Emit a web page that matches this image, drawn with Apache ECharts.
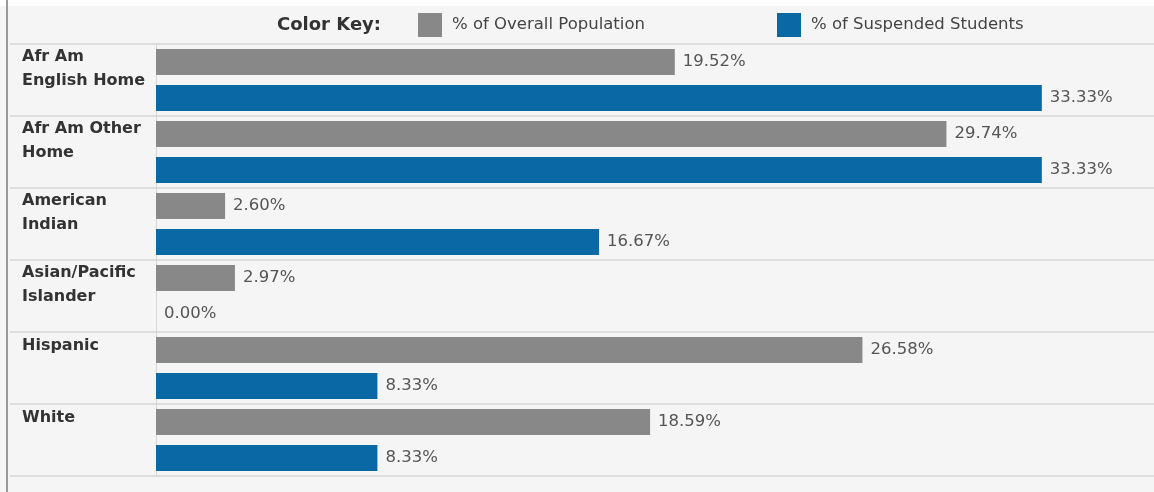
<!DOCTYPE html>
<html>
<head>
<meta charset="utf-8">
<script src="https://cdn.jsdelivr.net/npm/echarts@6/dist/echarts.min.js"></script>
<style>
html,body{margin:0;padding:0;background:#ffffff;}
#chart{width:1154px;height:492px;}
</style>
</head>
<body>
<div id="chart"></div>
<script>
const categories = [
  'Afr Am\nEnglish Home',
  'Afr Am Other\nHome',
  'American\nIndian',
  'Asian/Pacific\nIslander',
  'Hispanic',
  'White'
];
const seriesNames = ['% of Overall Population', '% of Suspended Students'];
const overallPopulation = [19.52, 29.74, 2.60, 2.97, 26.58, 18.59];
const suspendedStudents = [33.33, 33.33, 16.67, 0.00, 8.33, 8.33];
const colorKeyTitle = 'Color Key:';

const FONT = 'DejaVu Sans';
const chart = echarts.init(document.getElementById('chart'), null, {renderer: 'canvas'});

function catLabel(v) {
  const lines = v.split('\n');
  const gap = lines.length > 1 ? '{g2| }' : '{g1| }';
  return lines.map(l => '{t|' + l + '}').join('\n') + '\n' + gap;
}

const option = {
  backgroundColor: '#f5f5f5',
  animation: false,
  title: {
    text: colorKeyTitle,
    left: 277, top: 16, padding: 0,
    textStyle: {fontFamily: FONT, fontSize: 18, fontWeight: 'bold', color: '#333333'}
  },
  legend: [
    {
      data: [seriesNames[0]], left: 418, top: 13, padding: 0,
      icon: 'rect', itemWidth: 24, itemHeight: 24,
      textStyle: {fontFamily: FONT, fontSize: 16.5, color: '#444444', padding: [2,0,0,5]}
    },
    {
      data: [seriesNames[1]], left: 777, top: 13, padding: 0,
      icon: 'rect', itemWidth: 24, itemHeight: 24,
      textStyle: {fontFamily: FONT, fontSize: 16.5, color: '#444444', padding: [2,0,0,5]}
    }
  ],
  graphic: [
    {type: 'rect', shape: {x: 0, y: 0, width: 1154, height: 6}, style: {fill: '#ffffff'}, z: -1},
    {type: 'rect', shape: {x: 6, y: 0, width: 2, height: 492}, style: {fill: '#9a9a9a'}, z: 10}
  ],
  grid: [
    {left: 10, right: 0, top: 44, height: 432},
    {left: 156, right: 0, top: 44, height: 432}
  ],
  xAxis: [
    {gridIndex: 0, type: 'value', show: false, min: 0, max: 1},
    {gridIndex: 1, type: 'value', min: 0, max: 37.55,
     axisLine: {show: false}, axisTick: {show: false}, axisLabel: {show: false}, splitLine: {show: false}}
  ],
  yAxis: [
    {gridIndex: 0, type: 'category', data: categories, inverse: true,
     axisLine: {show: false}, axisTick: {show: false}, axisLabel: {show: false},
     splitLine: {show: true, lineStyle: {color: '#dddddd', width: 2}}},
    {gridIndex: 1, type: 'category', data: categories, inverse: true,
     axisLine: {show: true, lineStyle: {color: '#d8d8d8', width: 1}},
     axisTick: {show: false},
     splitLine: {show: false},
     axisLabel: {
       show: true, margin: 134, align: 'left',
       formatter: catLabel,
       rich: {
         t: {fontFamily: FONT, fontSize: 16, fontWeight: 'bold', color: '#333333', lineHeight: 24},
         g1: {fontSize: 1, lineHeight: 44},
         g2: {fontSize: 1, lineHeight: 22}
       }
     }}
  ],
  series: [
    {
      name: seriesNames[0], type: 'bar', xAxisIndex: 1, yAxisIndex: 1,
      data: overallPopulation, barWidth: 26, barGap: '38.5%',
      itemStyle: {color: '#888888'},
      label: {show: true, position: 'right', distance: 8, formatter: p => p.value.toFixed(2) + '%',
              fontFamily: FONT, fontSize: 16.5, color: '#555555'}
    },
    {
      name: seriesNames[1], type: 'bar', xAxisIndex: 1, yAxisIndex: 1,
      data: suspendedStudents, barWidth: 26, barGap: '38.5%',
      itemStyle: {color: '#0a68a4'},
      label: {show: true, position: 'right', distance: 8, formatter: p => p.value.toFixed(2) + '%',
              fontFamily: FONT, fontSize: 16.5, color: '#555555'}
    }
  ]
};
chart.setOption(option);
</script>
</body>
</html>
